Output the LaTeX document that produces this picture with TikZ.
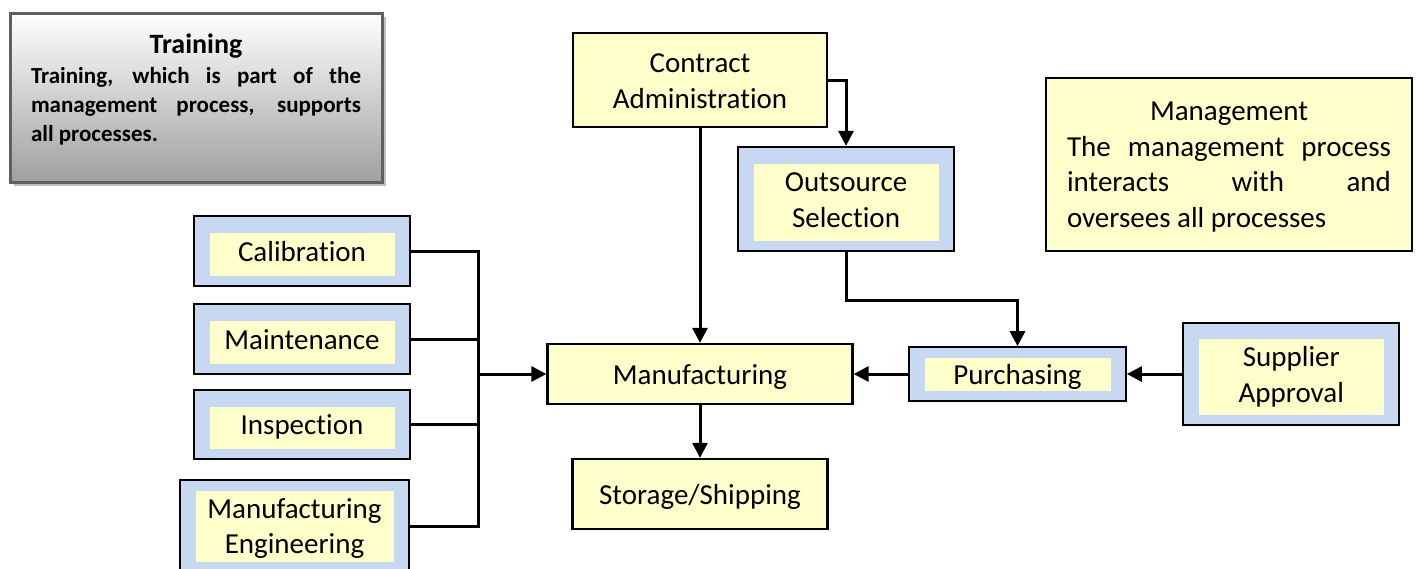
\documentclass[tikz,border=0pt]{standalone}
\usepackage{fontspec}
\setmainfont{Carlito}[Ligatures={NoCommon,NoContextual},Contextuals=NoAlternate]
\usetikzlibrary{arrows.meta,shadows}

\definecolor{boxyellow}{HTML}{FFFFCC}
\definecolor{boxblue}{HTML}{C6D9F1}
\definecolor{edgegray}{RGB}{95,95,95}

% two centred lines, baseline on the first one
\newcommand\stacktext[2]{\parbox[t]{190pt}{\centering #1\\#2}}

\tikzset{
  basebox/.style={draw=black, line width=2.3pt, inner sep=0pt,
    font=\fontsize{29}{35.5}\selectfont, text height=20pt, text depth=0pt},
  plainbox/.style={basebox, fill=boxyellow},
  framedbox/.style={basebox, fill=boxblue,
    path picture={\fill[boxyellow]
      ([xshift=16pt,yshift=-#1]path picture bounding box.north west) rectangle
      ([xshift=-15pt,yshift=10pt]path picture bounding box.south east);}},
  framedbox/.default=17pt,
  twoline/.style={text depth=35pt},
  trainbox/.style={draw=edgegray, line width=3pt, inner sep=0pt,
    top color=white, bottom color=gray!75,
    drop shadow={shadow xshift=4pt, shadow yshift=-4pt, fill=black!25, opacity=1},
    text height=20pt, text depth=109pt},
  conn/.style={line width=3pt},
  arr/.style={conn, -{Triangle[length=15pt,width=15pt]}},
}

\begin{document}
\begin{tikzpicture}[x=1pt,y=-1pt]
\useasboundingbox (0,0) rectangle (1416,568);
\clip (0,0) rectangle (1416,568);

% note boxes
\node[trainbox, minimum width=372pt, minimum height=169pt] (tr) at (196,97.5)
  {\parbox[t]{330pt}{\centering\fontsize{28}{30}\selectfont\bfseries Training\par
   \vspace{1pt}\fontsize{23}{29}\selectfont
   \makebox[\linewidth][s]{Training, which is part of the}\\
   \makebox[\linewidth][s]{management process, supports}\\
   \makebox[\linewidth][l]{all processes.}}};

\node[plainbox, minimum width=366pt, minimum height=173pt, text depth=108pt] (mg) at (1229,164.5)
  {\parbox[t]{324pt}{\centering Management\\
   \makebox[\linewidth][s]{The management process}\\
   \makebox[\linewidth][s]{interacts with and}\\
   \makebox[\linewidth][l]{oversees all processes}}};

% process boxes
\node[plainbox, twoline, minimum width=254.6pt, minimum height=93.4pt] (ca) at (700,80)
  {\stacktext{Contract}{Administration}};
\node[framedbox, twoline, minimum width=216pt, minimum height=104pt] (os) at (846,199)
  {\stacktext{Outsource}{Selection}};
\node[framedbox, minimum width=216pt, minimum height=70pt] (cal) at (302,251) {Calibration};
\node[framedbox, minimum width=216pt, minimum height=70pt] (mnt) at (302,339) {Maintenance};
\node[framedbox, minimum width=216pt, minimum height=69pt] (insp) at (302,424.5) {Inspection};
\node[framedbox=11pt, twoline, text depth=36pt, minimum width=229pt, minimum height=92pt] (meng) at (294.5,526)
  {\stacktext{Manufacturing}{Engineering}};
\node[plainbox, minimum width=305pt, minimum height=60pt] (mf) at (700,374) {Manufacturing};
\node[plainbox, minimum width=255pt, minimum height=70pt] (ss) at (700,494) {Storage/Shipping};
\node[framedbox=11pt, minimum width=216.4pt, minimum height=53.4pt] (pur) at (1017.5,374) {Purchasing};
\node[framedbox=16pt, twoline, minimum width=216pt, minimum height=102.4pt] (sup) at (1291.3,374)
  {\stacktext{Supplier}{Approval}};

% collecting line on the left
\coordinate (bus) at (478,374);
\draw[conn] (cal.east) -| (bus |- meng.east) -- (meng.east);
\draw[conn] (mnt.east) -- (mnt.east -| bus);
\draw[conn] (insp.east) -- (insp.east -| bus);
\draw[arr] (bus) -- (mf.west);

% flows
\draw[arr] (ca.south) -- (mf.north);
\draw[arr] (ca.east) -| (os.north);
\draw[arr] (os.south) -- ++(0,48) -| (pur.north);
\draw[arr] (pur.west) -- (mf.east);
\draw[arr] (sup.west) -- (pur.east);
\draw[arr] (mf.south) -- (ss.north);
\end{tikzpicture}
\end{document}
